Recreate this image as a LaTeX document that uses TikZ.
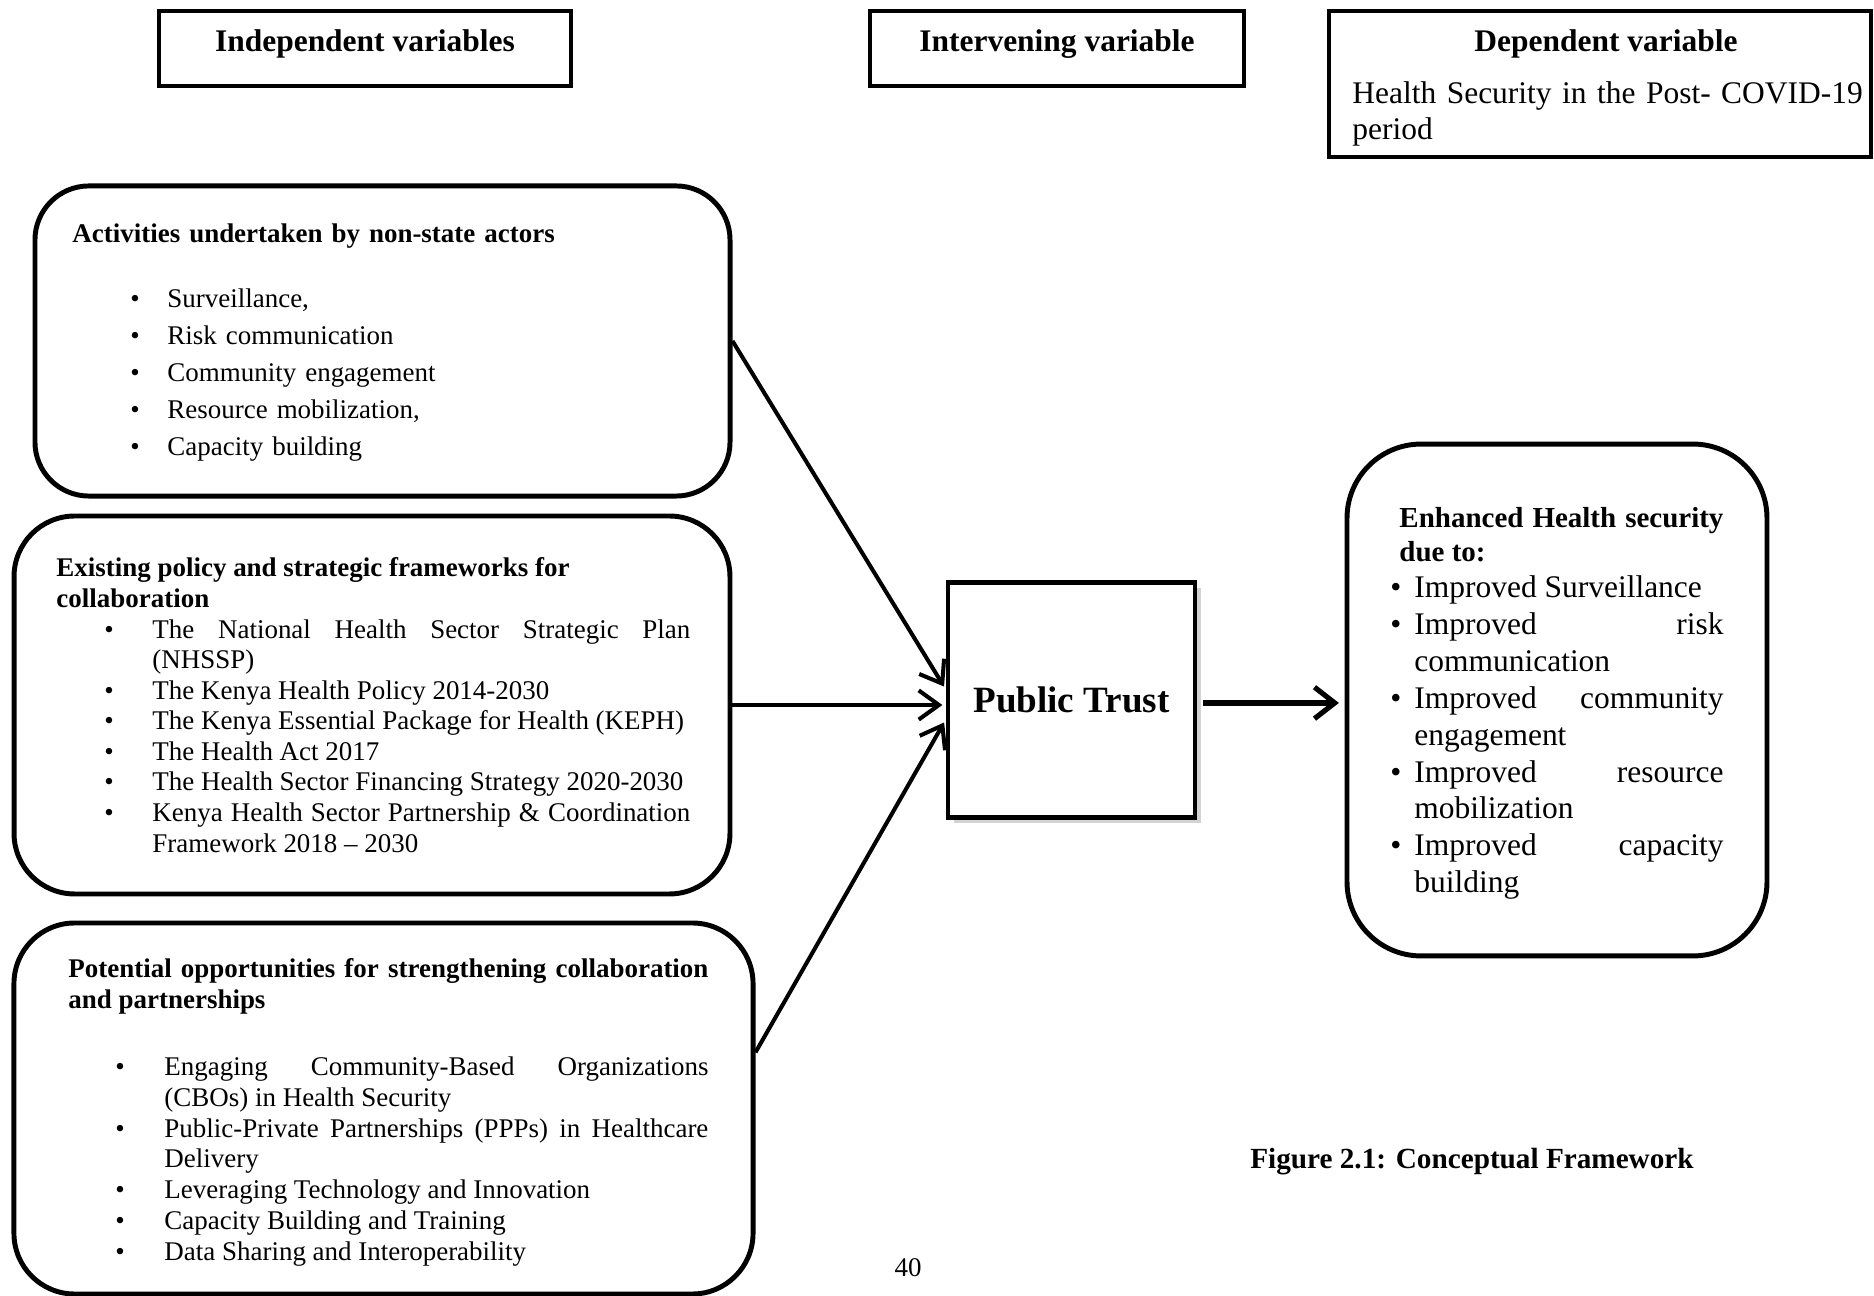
\documentclass[tikz,border=0pt]{standalone}
\usepackage{fontspec}
\setmainfont{Liberation Serif}
\usetikzlibrary{arrows.meta,shadows}
\newlength\px \setlength\px{0.445pt}
\newcommand\bitem[3]{\par\hangindent=\dimexpr#1+#2\relax\hangafter=1\noindent\hspace*{#1}\makebox[#2][l]{\textbullet}#3}
\newcommand\setupjust{\parindent=0pt\hyphenpenalty=10000\exhyphenpenalty=10000\tolerance=10000\hbadness=10000}
\begin{document}
\begin{tikzpicture}[x=0.445pt,y=-0.445pt,
  titlebox/.style={draw,line width=1.6pt,inner sep=0pt,fill=white},
  roundbox/.style={draw,line width=2.2pt,inner sep=0pt},
  ttl/.style={font=\fontsize{14}{16}\selectfont\bfseries,inner sep=0pt,anchor=base},
  body/.style={inner sep=0pt,anchor=base west},
  arr/.style={line width=1.8pt,-{Straight Barb[length=9pt,width=13pt]},shorten >=1.5pt},
  arrb/.style={line width=2.3pt,-{Straight Barb[length=9pt,width=14pt]},shorten >=2.5pt,shorten <=2.5pt},
]
\useasboundingbox (0,0) rectangle (1874,1296);

% header boxes
\node[titlebox,minimum width=183.3pt,minimum height=33.4pt] (iv) at (365,48.5) {};
\node[ttl] (ivt) at (365,52) {Independent variables};
\node[titlebox,minimum width=166.4pt,minimum height=33.4pt] (mv) at (1057,48.5) {};
\node[ttl] (mvt) at (1057,52) {Intervening variable};
\node[titlebox,minimum width=241.2pt,minimum height=65pt] (dv) at (1600,84) {};
\node[ttl] (dvt) at (1606,52) {Dependent variable};
\node[body,text width=238pt,align=left,font=\fontsize{14}{16}\selectfont] (dvb) at (1352,104) {Health Security in the Post- COVID-19\\period};

% independent variable boxes
\node[roundbox,rounded corners=24pt,minimum width=309.3pt,minimum height=138pt] (A) at (382.5,341) {};
\node[body,text width=276pt,align=left,font=\fontsize{12}{16.5}\selectfont\setupjust] (At) at (72,243) {%
\textbf{Activities undertaken by non-state actors}\par\vspace{12pt}
\bitem{58\px}{37\px}{Surveillance,}
\bitem{58\px}{37\px}{Risk communication}
\bitem{58\px}{37\px}{Community engagement}
\bitem{58\px}{37\px}{Resource mobilization,}
\bitem{58\px}{37\px}{Capacity building}\par};

\node[roundbox,rounded corners=27pt,minimum width=318.6pt,minimum height=168.2pt] (B) at (372,705) {};
\node[body,text width=282.1pt,align=justify,font=\fontsize{12}{13.6}\selectfont\setupjust] (Bt) at (56,577) {%
\textbf{Existing policy and strategic frameworks for}\par
\textbf{collaboration}
\bitem{48\px}{48\px}{The National Health Sector Strategic Plan (NHSSP)}
\bitem{48\px}{48\px}{The Kenya Health Policy 2014-2030}
\bitem{48\px}{48\px}{The Kenya Essential Package for Health (KEPH)}
\bitem{48\px}{48\px}{The Health Act 2017}
\bitem{48\px}{48\px}{The Health Sector Financing Strategy 2020-2030}
\bitem{48\px}{48\px}{Kenya Health Sector Partnership \& Coordination Framework 2018 – 2030}\par};

\node[roundbox,rounded corners=27pt,minimum width=328.9pt,minimum height=165.1pt] (C) at (383.5,1108.5) {};
\node[body,text width=284.8pt,align=justify,font=\fontsize{12}{13.7}\selectfont\setupjust] (Ct) at (68,978) {%
\textbf{Potential opportunities for strengthening collaboration and partnerships}\par\vspace{16pt}
\bitem{47\px}{49\px}{Engaging Community-Based Organizations (CBOs) in Health Security}
\bitem{47\px}{49\px}{Public-Private Partnerships (PPPs) in Healthcare Delivery}
\bitem{47\px}{49\px}{Leveraging Technology and Innovation}
\bitem{47\px}{49\px}{Capacity Building and Training}
\bitem{47\px}{49\px}{Data Sharing and Interoperability}\par};

% intervening variable
\node[draw,line width=2pt,fill=white,minimum width=109.9pt,minimum height=104.6pt,
  drop shadow={shadow xshift=2.5pt,shadow yshift=-2.5pt,opacity=0.35},
  font=\fontsize{16.5}{18}\selectfont\bfseries] (PT) at (1071.5,700) {Public Trust};

% dependent variable box
\node[roundbox,rounded corners=33pt,minimum width=186.9pt,minimum height=227.8pt] (E) at (1557,700) {};
\node[body,text width=148.2pt,align=justify,font=\setupjust] (Et) at (1390,528) {%
{\fontsize{12.9}{14.7}\selectfont\bfseries\leftskip=9\px Enhanced Health security due to:\par}
\fontsize{14}{16.4}\selectfont
\bitem{0pt}{24\px}{Improved Surveillance}
\bitem{0pt}{24\px}{Improved risk communication}
\bitem{0pt}{24\px}{Improved community engagement}
\bitem{0pt}{24\px}{Improved resource mobilization}
\bitem{0pt}{24\px}{Improved capacity building}\par};

% connectors
\draw[arr] (A.east) -- ([yshift=4.7pt]PT.west);
\draw[arr] (B.east) -- (PT.west |- B.east);
\draw[arr] ([yshift=25pt]C.east) -- ([yshift=-8.7pt]PT.west);
\draw[arrb] ([yshift=-1.3pt]PT.east) -- ([yshift=-1.3pt]E.west);

% caption and page number
\node[inner sep=0pt,anchor=base,font=\fontsize{13}{15}\selectfont\bfseries] (cap) at (1472,1168) {Figure 2.1: Conceptual Framework};
\node[inner sep=0pt,anchor=base,font=\fontsize{12}{14}\selectfont] (pg) at (908,1276) {40};
\end{tikzpicture}
\end{document}
